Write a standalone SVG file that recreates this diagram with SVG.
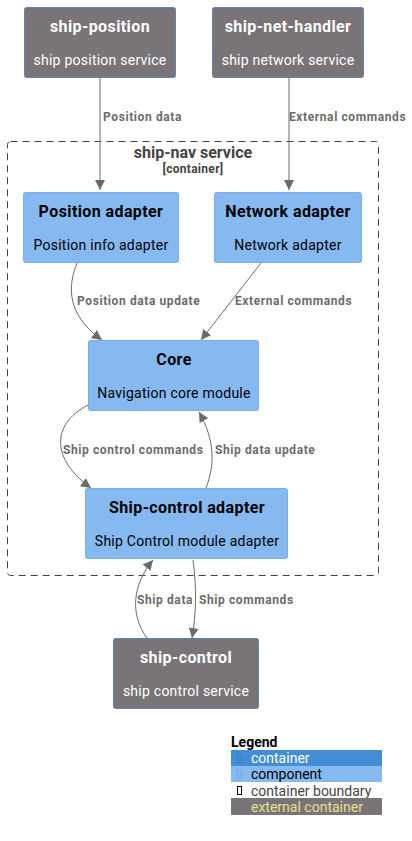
<svg xmlns="http://www.w3.org/2000/svg" width="412" height="841" viewBox="0 0 412 841">
<defs>
<style>
.ext{fill:#797477;stroke:#5f84b0;stroke-width:1}
.cmp{fill:#85b9f0;stroke:#7aaee6;stroke-width:1}
.t{font-family:Roboto,"Liberation Sans",sans-serif;text-anchor:middle}
.et{fill:#ffffff;font-size:16px;font-weight:bold;letter-spacing:0.4px}
.es{fill:#ffffff;font-size:14px;letter-spacing:0.25px}
.ct{fill:#000000;font-size:16px;font-weight:bold;letter-spacing:0.4px}
.cs{fill:#000000;font-size:14px;letter-spacing:0.25px}
.lbl{font-family:Roboto,"Liberation Sans",sans-serif;font-size:12px;font-weight:bold;fill:#6b6b6b;letter-spacing:0.6px}
.edge{fill:none;stroke:#6b6b6b;stroke-width:1}
.lg{font-family:Roboto,"Liberation Sans",sans-serif;font-size:14px}
</style>
<marker id="ah" viewBox="0 0 10 10" refX="10" refY="5" markerWidth="10" markerHeight="10" markerUnits="userSpaceOnUse" orient="auto">
<path d="M0,0 L10,5 L0,10 z" fill="#6b6b6b"/>
</marker>
</defs>
<rect width="412" height="841" fill="#ffffff"/>

<g id="boundary-ship-nav">
<rect x="7.5" y="141.5" width="371" height="434" rx="3" fill="none" stroke="#444444" stroke-width="1" stroke-dasharray="7,5"/>
<text class="t" x="193" y="158" font-size="16" font-weight="bold" fill="#444444">ship-nav service</text>
<text class="t" x="193" y="173" font-size="12" font-weight="bold" fill="#444444" letter-spacing="0.3">[container]</text>
</g>

<g id="connectors">
<path class="edge" d="M100,78 L100,190" marker-end="url(#ah)"/>
<text class="lbl" x="103" y="121">Position data</text>
<path class="edge" d="M289,78 L289,190" marker-end="url(#ah)"/>
<text class="lbl" x="289" y="121">External commands</text>

<path class="edge" d="M77,263 C64,295 74,320 102,340" marker-end="url(#ah)"/>
<text class="lbl" x="77" y="305">Position data update</text>
<path class="edge" d="M261,263 L201,340" marker-end="url(#ah)"/>
<text class="lbl" x="235" y="305">External commands</text>

<path class="edge" d="M88,405 C50,425 52,460 91,488" marker-end="url(#ah)"/>
<text class="lbl" x="63" y="454">Ship control commands</text>
<path class="edge" d="M206,488 C215,465 215,440 199,412" marker-end="url(#ah)"/>
<text class="lbl" x="215" y="454">Ship data update</text>

<path class="edge" d="M147,638 C130,615 132,585 153,560" marker-end="url(#ah)"/>
<text class="lbl" x="137" y="604">Ship data</text>
<path class="edge" d="M193,560 C197,590 196,615 192,638" marker-end="url(#ah)"/>
<text class="lbl" x="199" y="604">Ship commands</text>
</g>

<g id="ship-position">
<rect class="ext" x="24.5" y="7.5" width="151" height="70" rx="2"/>
<text class="t et" x="100" y="32">ship-position</text>
<text class="t es" x="100" y="65">ship position service</text>
</g>

<g id="ship-net-handler">
<rect class="ext" x="212.5" y="7.5" width="151" height="70" rx="2"/>
<text class="t et" x="288" y="32">ship-net-handler</text>
<text class="t es" x="288" y="65">ship network service</text>
</g>

<g id="position-adapter">
<rect class="cmp" x="23.5" y="192.5" width="155" height="70" rx="2"/>
<text class="t ct" x="101" y="217">Position adapter</text>
<text class="t cs" x="101" y="250">Position info adapter</text>
</g>

<g id="network-adapter">
<rect class="cmp" x="214.5" y="192.5" width="147" height="70" rx="2"/>
<text class="t ct" x="288" y="217">Network adapter</text>
<text class="t cs" x="288" y="250">Network adapter</text>
</g>

<g id="core">
<rect class="cmp" x="88.5" y="340.5" width="170" height="70" rx="2"/>
<text class="t ct" x="174" y="365">Core</text>
<text class="t cs" x="174" y="398">Navigation core module</text>
</g>

<g id="ship-control-adapter">
<rect class="cmp" x="85.5" y="488.5" width="202" height="70" rx="2"/>
<text class="t ct" x="187" y="513">Ship-control adapter</text>
<text class="t cs" x="187" y="546">Ship Control module adapter</text>
</g>

<g id="ship-control">
<rect class="ext" x="113.5" y="638.5" width="145" height="70" rx="2"/>
<text class="t et" x="186" y="663">ship-control</text>
<text class="t es" x="186" y="696">ship control service</text>
</g>

<g id="legend">
<text class="lg" x="231" y="747" font-weight="bold" fill="#000000">Legend</text>
<rect x="231" y="750" width="151" height="16" fill="#438dd5"/>
<rect x="237.5" y="754.5" width="4" height="8" fill="none" stroke="#3a7cc4" stroke-width="1"/>
<text class="lg" x="251" y="763" fill="#ffffff">container</text>
<rect x="231" y="766" width="151" height="16" fill="#85bbf0"/>
<rect x="237.5" y="770.5" width="4" height="8" fill="none" stroke="#6fa6e0" stroke-width="1"/>
<text class="lg" x="251" y="779" fill="#000000">component</text>
<rect x="237.5" y="786.5" width="4" height="8" fill="none" stroke="#000000" stroke-width="1"/>
<text class="lg" x="251" y="796" fill="#444444">container boundary</text>
<rect x="231" y="798" width="151" height="17" fill="#797477"/>
<text class="lg" x="251" y="812" fill="#e8e08c">external container</text>
</g>
</svg>
